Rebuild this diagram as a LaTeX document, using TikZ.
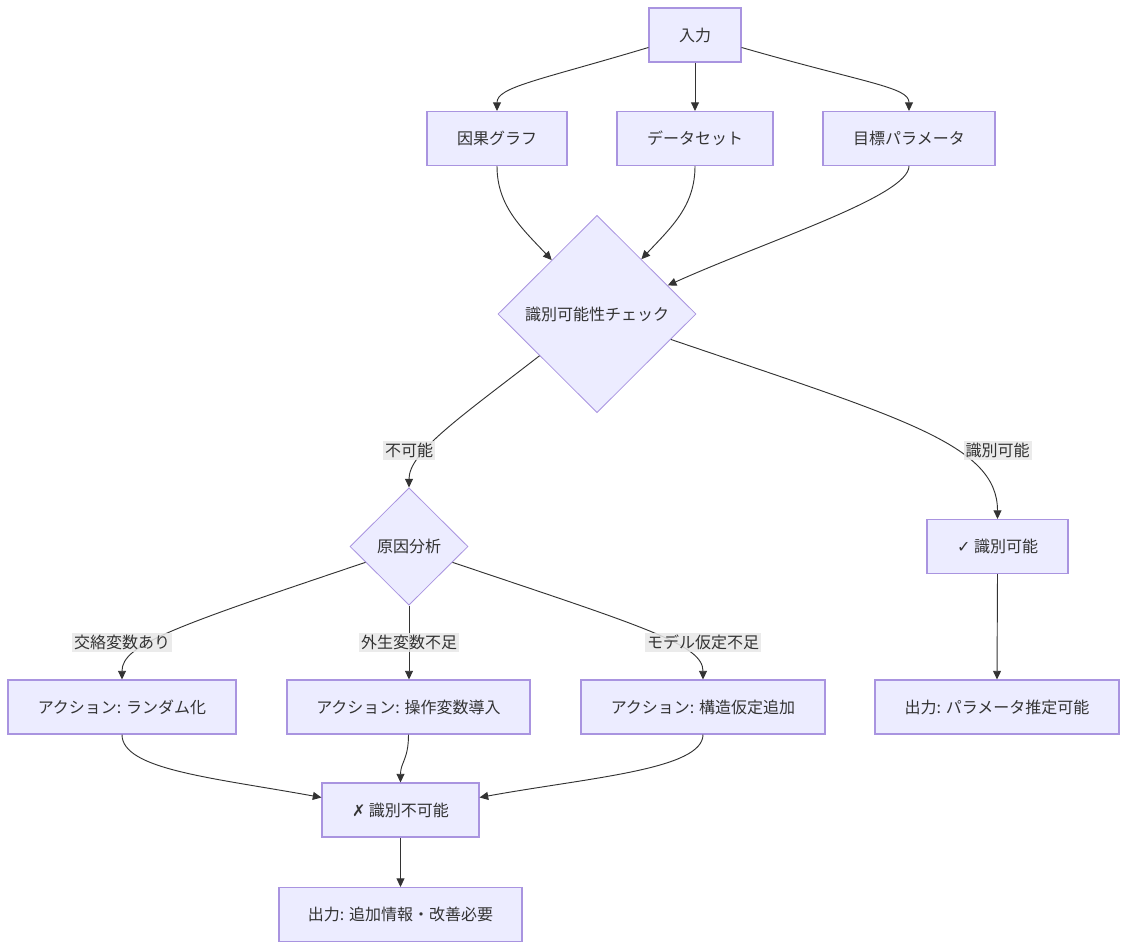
\documentclass[tikz,border=0pt]{standalone}
\usepackage{fontspec}
\setmainfont{Noto Sans CJK JP}
\newfontfamily\symfont{DejaVu Sans}
\usetikzlibrary{arrows.meta,shapes.geometric}
\definecolor{FlowFill}{HTML}{ECECFF}
\definecolor{FlowLine}{HTML}{A994E0}
\definecolor{EdgeLine}{HTML}{333333}
\definecolor{TagFill}{HTML}{E8E8E8}

\begin{document}
\begin{tikzpicture}[x=0.75pt,y=-0.75pt]
    \tikzset{flowbox/.style={draw=FlowLine,fill=FlowFill,line width=0.8pt,
      minimum height=40.5pt,inner sep=0pt,text=EdgeLine,font=\fontsize{12pt}{14pt}\selectfont},
      decide/.style={diamond,aspect=1,draw=FlowLine,fill=FlowFill,line width=0.6pt,
      inner sep=0pt,text=EdgeLine,font=\fontsize{12pt}{14pt}\selectfont},
      edge/.style={draw=EdgeLine,line width=0.7pt,-{Triangle[length=6.5pt,width=6pt]}},
      tag/.style={fill=TagFill,fill opacity=0.85,text opacity=1,inner sep=1.5pt,
      text=EdgeLine,font=\fontsize{12pt}{14pt}\selectfont}}
    \useasboundingbox (0,0) rectangle (1128,950);
    % inputs
    \node[flowbox,minimum width=69pt] (in) at (695,35) {入力};
    \node[flowbox,minimum width=105pt] (cg) at (497,138.5) {因果グラフ};
    \node[flowbox,minimum width=117pt] (ds) at (695,138.5) {データセット};
    \node[flowbox,minimum width=129pt] (tp) at (909,138.5) {目標パラメータ};
    % checks
    \node[decide,minimum width=148.5pt,minimum height=148pt] (chk) at (597,314) {識別可能性チェック};
    \node[decide,minimum width=88.5pt,minimum height=88pt] (ca) at (409,546.5) {原因分析};
    \node[flowbox,minimum width=105.75pt] (ok) at (997.5,546.5) {{\symfont ✓} 識別可能};
    \node[flowbox,minimum width=183pt] (out1) at (997,707) {出力: パラメータ推定可能};
    % actions
    \node[flowbox,minimum width=171pt] (r1) at (122,707) {アクション: ランダム化};
    \node[flowbox,minimum width=182.25pt] (r2) at (408.5,707) {アクション: 操作変数導入};
    \node[flowbox,minimum width=183pt] (r3) at (703,707) {アクション: 構造仮定追加};
    \node[flowbox,minimum width=117.75pt] (ng) at (400.5,810) {{\symfont ✗} 識別不可能};
    \node[flowbox,minimum width=182.25pt] (out2) at (400.5,914.5) {出力: 追加情報・改善必要};

    \draw[edge] (in.195) .. controls +(-110,33) and +(0,-24) .. (cg.north);
    \draw[edge] (in.south) -- (ds.north);
    \draw[edge] (in.-15) .. controls +(125,36) and +(0,-24) .. (tp.north);
    \draw[edge] (cg.south) .. controls +(0,40) and +(-30,-32) .. (chk.130);
    \draw[edge] (ds.south) .. controls +(0,40) and +(30,-32) .. (chk.51);
    \draw[edge] (tp.south) .. controls +(0,30) and +(100,-45) .. (chk.22);
    \draw[edge] (chk.216) .. controls +(-80,62) and +(0,-35) .. (ca.north);
    \draw[edge] (chk.-19) .. controls +(229,78) and +(0,-75) .. (ok.north);
    \draw[edge] (ca.200) .. controls +(-190,64) and +(0,-35) .. (r1.north);
    \draw[edge] (ca.south) -- (ca.south |- r2.north);
    \draw[edge] (ca.-20) .. controls +(190,64) and +(0,-35) .. (r3.north);
    \draw[edge] (r1.south) .. controls +(0,35) and +(-110,-20) .. (ng.171);
    \draw[edge] (r2.south) .. controls +(0,25) and +(0,-20) .. (ng.north);
    \draw[edge] (r3.south) .. controls +(0,35) and +(110,-20) .. (ng.9);
    \draw[edge] (ok.south) -- (out1.north);
    \draw[edge] (ng.south) -- (out2.north);
    % edge labels
    \node[tag] (t1) at (409,450.5) {不可能};
    \node[tag] (t2) at (997.5,450.5) {識別可能};
    \node[tag] (t3) at (122,642.5) {交絡変数あり};
    \node[tag] (t4) at (409,642.5) {外生変数不足};
    \node[tag] (t5) at (703,642.5) {モデル仮定不足};
  \end{tikzpicture}
\end{document}
